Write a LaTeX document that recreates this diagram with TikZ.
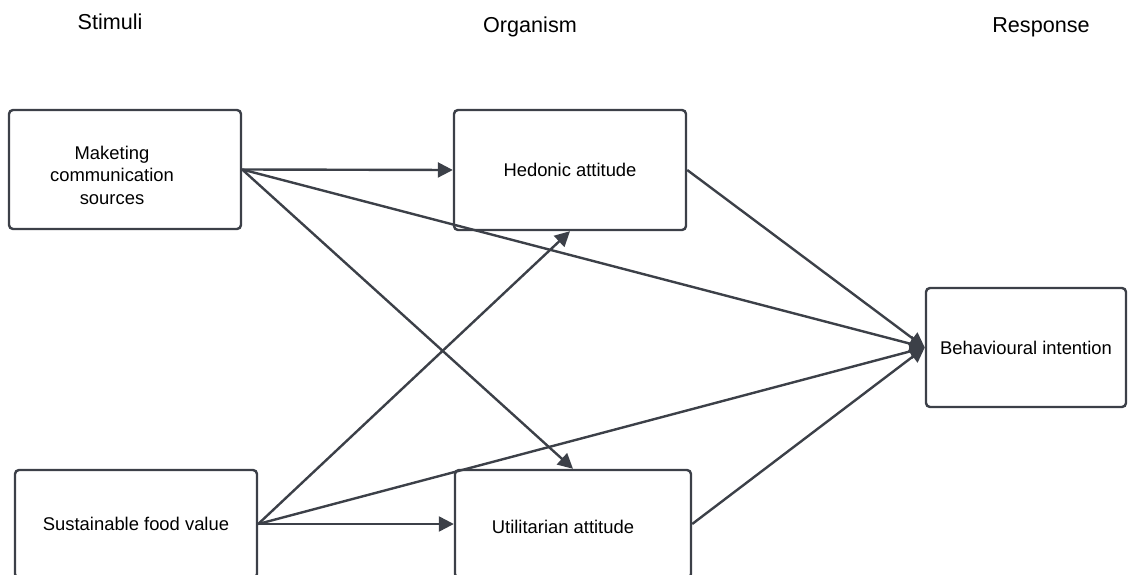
\documentclass[tikz,border=0pt]{standalone}
\usepackage{fontspec}
\setmainfont{Liberation Sans}
\usetikzlibrary{
  arrows.meta,
  positioning,
}
\definecolor{slate}{RGB}{60,64,72}
\tikzstyle{box} = [
  draw=slate,
  line width=2.4pt,
  rectangle,
  rounded corners=4pt,
  inner sep=0pt,
  align=center,
  font=\fontsize{18.4}{22.5}\selectfont,
]
\tikzstyle{boxtext} = [
  align=center,
  inner sep=0pt,
  font=\fontsize{18.4}{22.5}\selectfont,
]
\tikzstyle{heading} = [font=\fontsize{21.6}{26}\selectfont]
\tikzstyle{arrow} = [
  -{Triangle[length=15pt,width=15pt]},
  line width=2.4pt,
  slate,
]

\begin{document}
\begin{tikzpicture}[x=1pt,y=-1pt]
    \useasboundingbox (0,0) rectangle (1128,575);

    % column headings
    \node[heading] (stim) at (110,22) {Stimuli};
    \node[heading] (org)  at (530,27) {Organism};
    \node[heading] (resp) at (1041,27) {Response};

    % boxes
    \node[box,minimum width=232pt,minimum height=119pt] (mcs) at (125,169.5) {};
    \node[boxtext] (mcst) at (112,175) {Maketing\\communication\\sources};
    \node[box,minimum width=232pt,minimum height=120pt] (ha) at (570,170) {Hedonic attitude};
    \node[box,minimum width=242pt,minimum height=108pt] (sfv) at (136,524) {Sustainable food value};
    \node[box,minimum width=236pt,minimum height=108pt] (ua) at (573,524) {};
    \node[boxtext] (uat) at (563,527) {Utilitarian attitude};
    \node[box,minimum width=200pt,minimum height=119pt] (bi) at (1026,347.5) {Behavioural intention};

    % paths
    \draw[arrow] (mcs.east) -- (ha.west);
    \draw[arrow] (mcs.east) -- (bi.west);
    \draw[arrow] (mcs.east) -- (ua.north);
    \draw[arrow] (ha.east) -- (bi.west);
    \draw[arrow] (sfv.east) -- (ha.south);
    \draw[arrow] (sfv.east) -- (bi.west);
    \draw[arrow] (sfv.east) -- (ua.west);
    \draw[arrow] (ua.east) -- (bi.west);
\end{tikzpicture}
\end{document}
